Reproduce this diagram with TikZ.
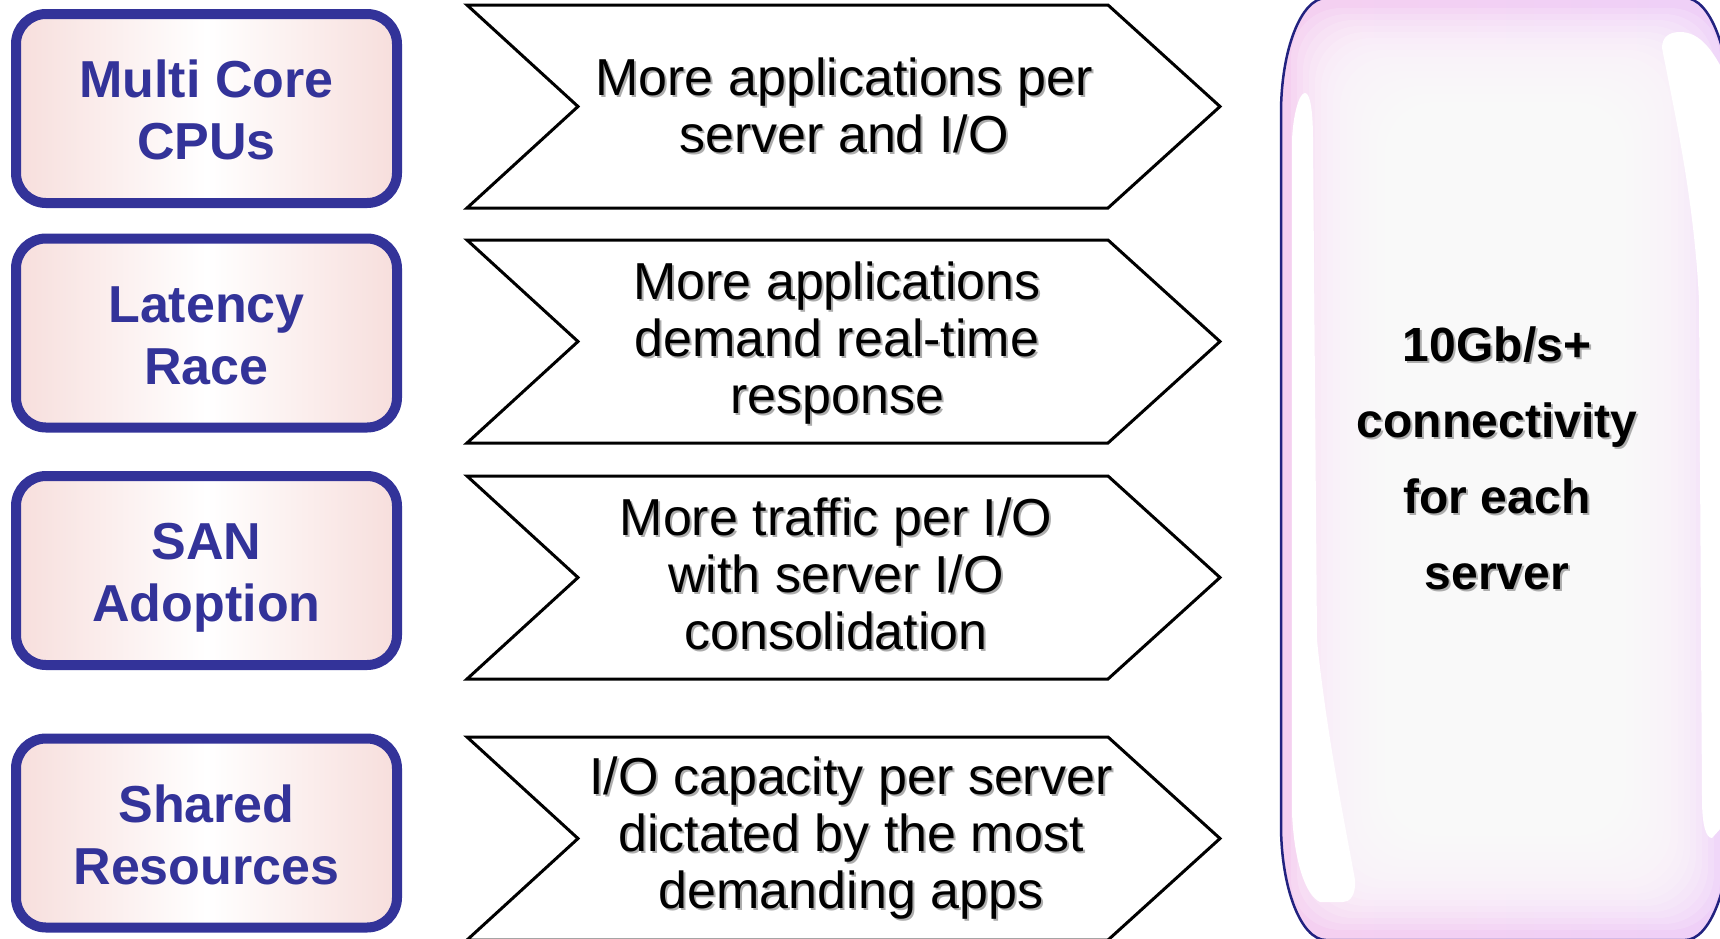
\documentclass[tikz,border=0pt]{standalone}
\usepackage{fontspec}
\setmainfont{Liberation Sans}
\definecolor{navy}{RGB}{51,51,153}
\definecolor{darknavy}{RGB}{34,34,128}
\definecolor{boxpink}{RGB}{247,222,220}
\definecolor{rpink}{RGB}{245,208,240}
\definecolor{rlav}{RGB}{238,208,248}
\begin{document}
\begin{tikzpicture}[x=1pt,y=-1pt,
  leftbox/.style={draw=navy, line width=10pt, rounded corners=30pt,
    left color=boxpink, right color=boxpink, middle color=white,
    minimum width=381pt, minimum height=189pt, inner sep=0pt},
  lefttext/.style={text=navy, font=\bfseries\fontsize{52}{62.5}\selectfont, align=center, inner sep=0pt},
  chevline/.style={draw=black, fill=white, line width=3pt, line join=miter},
  chevtext/.style={text=black, font=\fontsize{52}{57}\selectfont, align=center, inner sep=0pt},
  chevshadow/.style={chevtext, text=black!32},
  righttext/.style={text=black, font=\bfseries\fontsize{48}{76}\selectfont, align=center, inner sep=0pt},
  rightshadow/.style={righttext, text=black!32},
  chevron/.pic={\path[chevline] (0,0) -- (641,0) -- (753,101.5) -- (641,203) -- (0,203) -- (111,101.5) -- cycle;}
]
\useasboundingbox (0,0) rectangle (1720,938);

% ---------- left boxes ----------
\node[leftbox] (b1) at (206.5,108.5) {};
\node[leftbox] (b2) at (206.5,333) {};
\node[leftbox] (b3) at (206.5,570.5) {};
\node[leftbox] (b4) at (206.5,833) {};
\node[lefttext] (t1) at (206.5,116) {\strut Multi Core\\\strut CPUs};
\node[lefttext] (t2) at (206.5,341) {\strut Latency\\\strut Race};
\node[lefttext] (t3) at (206.5,578) {\strut SAN\\\strut Adoption};
\node[lefttext] (t4) at (206.5,841) {\strut Shared\\\strut Resources};

% ---------- chevrons ----------
\pic at (467,5) {chevron};
\pic at (467,240) {chevron};
\pic at (467,476) {chevron};
\pic at (467,737) {chevron};

\node[chevshadow] (c1s) at (846,114.5) {\strut More applications per\\\strut server and I/O};
\node[chevtext]   (c1)  at (844,112.5) {\strut More applications per\\\strut server and I/O};
\node[chevshadow] (c2s) at (839,347.5) {\strut More applications\\\strut demand real-time\\\strut response};
\node[chevtext]   (c2)  at (837,345.5) {\strut More applications\\\strut demand real-time\\\strut response};
\node[chevshadow] (c3s) at (838,583.5) {\strut More traffic per I/O\\\strut with server I/O\\\strut consolidation};
\node[chevtext]   (c3)  at (836,581.5) {\strut More traffic per I/O\\\strut with server I/O\\\strut consolidation};
\node[chevshadow] (c4s) at (853,842.5) {\strut I/O capacity per server\\\strut dictated by the most\\\strut demanding apps};
\node[chevtext]   (c4)  at (851,840.5) {\strut I/O capacity per server\\\strut dictated by the most\\\strut demanding apps};

% ---------- right panel ----------
\begin{scope}
\clip (1281,113) .. controls (1281,50) and (1301,-2) .. (1326,-2) -- (1685,-2)
  .. controls (1710,-2) and (1730,50) .. (1730,113) -- (1730,825)
  .. controls (1730,888) and (1710,940) .. (1685,940) -- (1326,940)
  .. controls (1301,940) and (1281,888) .. (1281,825) -- cycle;
\fill[left color=rpink, right color=rlav] (1275,-5) rectangle (1735,945);
\foreach \d in {10,16,22,28,34,40,46,52,59,66,73,80,88,96,104,113,122,132,142,152} {
  \fill[white, opacity=0.16, rounded corners=50pt] (1281+\d,-2+\d) rectangle (1730-\d,940-\d);
}
% white highlight strips
\fill[white] (1305,93) .. controls (1310,93) and (1313,110) .. (1313,140)
  -- (1317,640) .. controls (1327,740) and (1350,850) .. (1355,880)
  .. controls (1356,895) and (1350,902) .. (1343,902) -- (1320,902)
  .. controls (1305,895) and (1294,860) .. (1292,813)
  -- (1292,140) .. controls (1293,115) and (1299,93) .. (1305,93) -- cycle;
\fill[white] (1662,48) .. controls (1662,38) and (1668,32) .. (1680,32)
  .. controls (1700,32) and (1714,50) .. (1730,85) -- (1730,818)
  -- (1712,838) .. controls (1706,838) and (1702,825) .. (1702,800)
  -- (1699,300) .. controls (1694,200) and (1676,120) .. (1662,48) -- cycle;
\end{scope}
\draw[darknavy, line width=2.5pt] (1281,113) .. controls (1281,50) and (1301,-2) .. (1326,-2) -- (1685,-2)
  .. controls (1710,-2) and (1730,50) .. (1730,113) -- (1730,825)
  .. controls (1730,888) and (1710,940) .. (1685,940) -- (1326,940)
  .. controls (1301,940) and (1281,888) .. (1281,825) -- cycle;

\node[rightshadow] (rts) at (1499,462) {\strut 10Gb/s+\\\strut connectivity\\\strut for each\\\strut server};
\node[righttext]   (rt)  at (1497,460) {\strut 10Gb/s+\\\strut connectivity\\\strut for each\\\strut server};
\end{tikzpicture}
\end{document}
